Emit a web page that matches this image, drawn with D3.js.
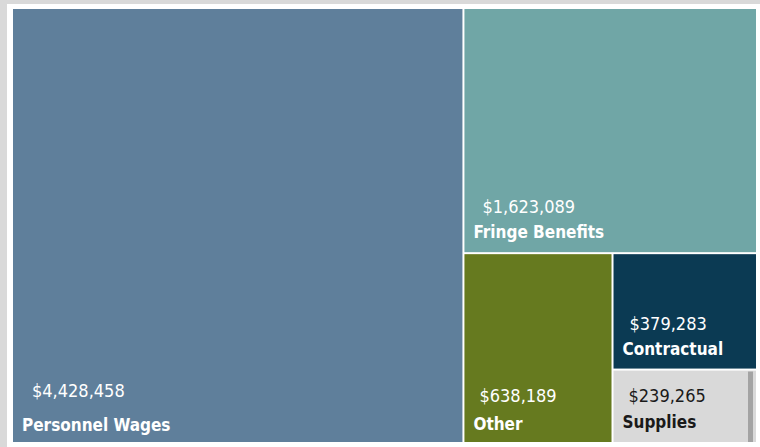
<!DOCTYPE html>
<html><head><meta charset="utf-8">
<script src="https://cdn.jsdelivr.net/npm/d3@7"></script>
<style>
html,body{margin:0;padding:0;background:#d9d9d9;}
svg{display:block;}
text{font-family:'DejaVu Sans Condensed','DejaVu Sans',sans-serif;font-stretch:condensed;}
</style></head>
<body>
<svg id="chart" width="760" height="447"></svg>
<script>
const categories = ["Personnel Wages","Fringe Benefits","Other","Contractual","Supplies"];
const values = [4428458,1623089,638189,379283,239265];
const colors = ["#5f7f9b","#70a6a6","#667a1f","#0b3a53","#d9d9d9"];
const textColors = ["#ffffff","#ffffff","#ffffff","#ffffff","#1a1a1a"];
// label placement relative to tile bottom (style config)
const valueOffset = [45,39,40,39,40];
const nameOffset = [11,14,12,14,14];
const valueIndent = [19,18,15,16,15];

const svg = d3.select("#chart");
svg.append("rect").attr("x",7).attr("y",4).attr("width",753).attr("height",443).attr("fill","#ffffff");

const data = {name:"root", children: categories.map((c,i)=>({name:c, value:values[i], idx:i}))};
const root = d3.hierarchy(data).sum(d=>d.value||0).sort((a,b)=>b.value-a.value);
d3.treemap().tile(d3.treemapSquarify).size([743,433]).paddingInner(2).round(false)(root);

const g = svg.append("g").attr("transform","translate(13,9)");
const cell = g.selectAll("g.cell").data(root.leaves()).join("g").attr("class","cell");
cell.append("rect")
  .attr("x",d=>d.x0).attr("y",d=>d.y0)
  .attr("width",d=>d.x1-d.x0).attr("height",d=>d.y1-d.y0)
  .attr("fill",d=>colors[d.data.idx]);
const fmt = d3.format("$,");
cell.append("text")
  .attr("x",d=>d.x0+valueIndent[d.data.idx]).attr("y",d=>d.y1-valueOffset[d.data.idx])
  .attr("fill",d=>textColors[d.data.idx])
  .style("font-size","18px")
  .text(d=>fmt(d.value));
cell.append("text")
  .attr("x",d=>d.x0+9).attr("y",d=>d.y1-nameOffset[d.data.idx])
  .attr("fill",d=>textColors[d.data.idx])
  .style("font-weight","bold")
  .style("font-size","17px")
  .text(d=>d.data.name);
// scrollbar-like sliver at the right of the smallest tile
const last = root.leaves().find(d=>d.data.idx===4);
g.append("rect").attr("x",last.x1-8).attr("y",last.y0+1).attr("width",5).attr("height",last.y1-last.y0-1).attr("fill","#a3a3a3");
</script>
</body></html>
